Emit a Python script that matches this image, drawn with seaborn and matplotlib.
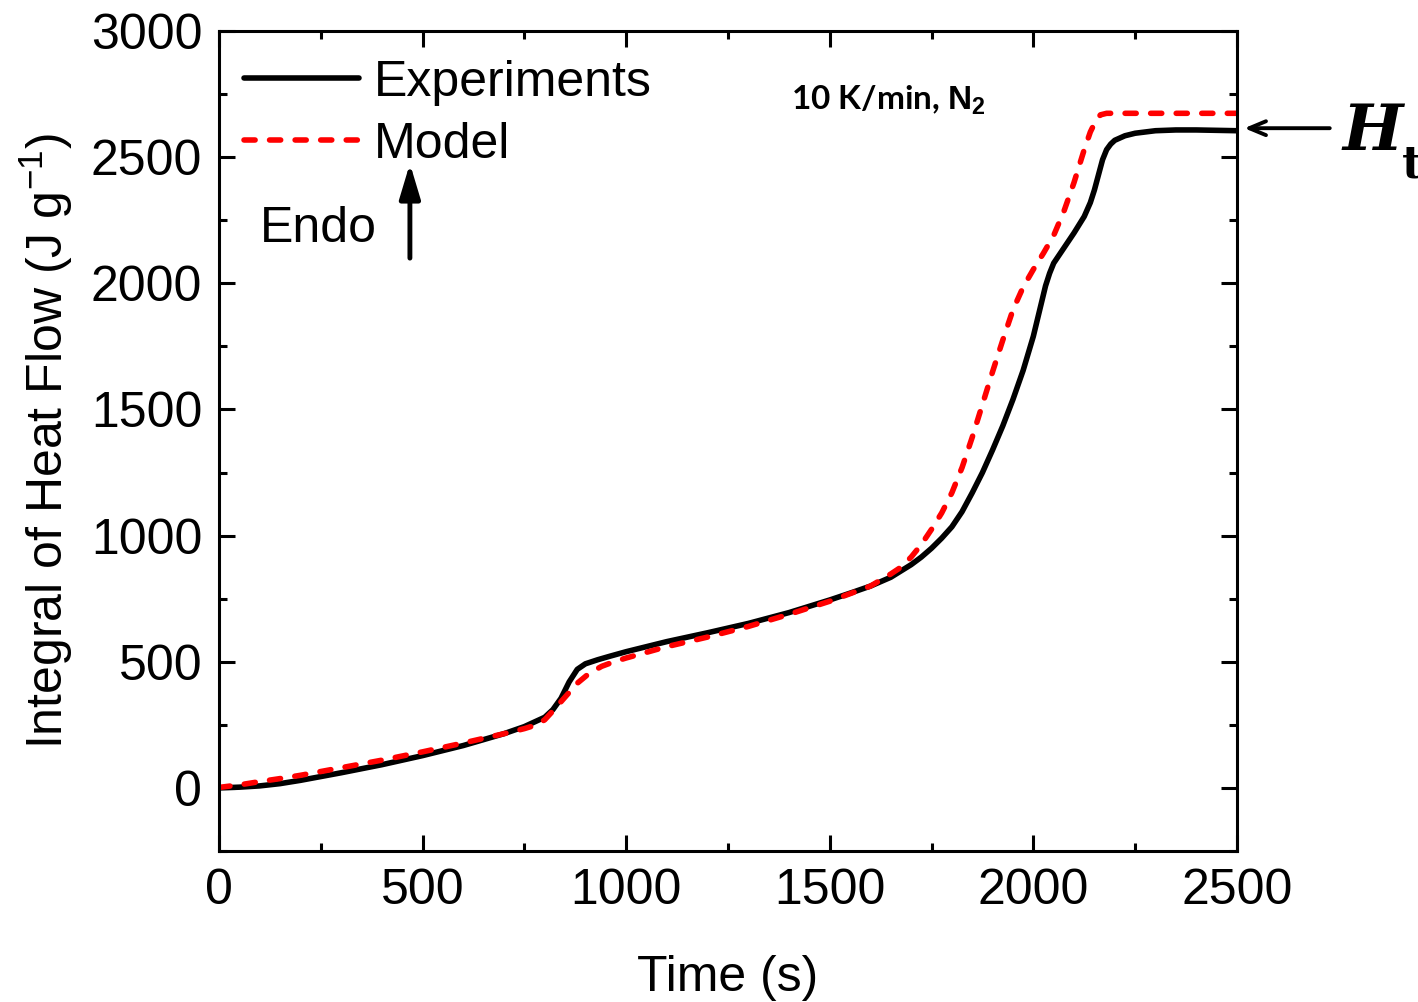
import matplotlib
matplotlib.use("Agg")
import matplotlib.pyplot as plt
import seaborn as sns
import numpy as np

# ---- data ----
exp_time = [0, 50, 100, 150, 200, 300, 400, 500, 600, 700, 750, 800, 820, 840, 860,
            880, 900, 930, 960, 1000, 1100, 1200, 1300, 1400, 1500, 1550, 1600, 1650,
            1700, 1725, 1750, 1775, 1800, 1825, 1850, 1875, 1900, 1925, 1950, 1975,
            2000, 2015, 2030, 2040, 2050, 2075, 2100, 2125, 2140, 2150, 2160, 2170,
            2180, 2190, 2200, 2225, 2250, 2300, 2350, 2400, 2500]
exp_heat = [0, 3, 8, 17, 30, 60, 92, 128, 168, 215, 243, 280, 310, 355, 420,
            470, 492, 508, 522, 540, 580, 615, 652, 695, 745, 772, 800, 835,
            885, 915, 950, 990, 1035, 1095, 1170, 1250, 1340, 1435, 1540, 1655,
            1790, 1890, 1990, 2040, 2080, 2140, 2200, 2265, 2320, 2370, 2430, 2490,
            2530, 2552, 2567, 2585, 2595, 2605, 2608, 2608, 2605]

model_time = [0, 50, 100, 150, 200, 300, 400, 500, 600, 700, 750, 780, 800, 820, 850,
              880, 910, 940, 970, 1000, 1100, 1200, 1300, 1400, 1500, 1600, 1650, 1675,
              1700, 1725, 1750, 1775, 1800, 1825, 1850, 1875, 1900, 1925, 1950, 1975,
              2000, 2025, 2050, 2075, 2100, 2125, 2140, 2155, 2165, 2180, 2500]
model_heat = [2, 12, 25, 37, 50, 80, 110, 143, 178, 215, 235, 250, 270, 305, 360,
              415, 455, 482, 500, 515, 560, 598, 640, 688, 740, 800, 848, 875,
              915, 965, 1025, 1090, 1170, 1270, 1390, 1520, 1650, 1775, 1895, 1985,
              2055, 2120, 2190, 2285, 2400, 2530, 2600, 2650, 2668, 2674, 2674]

xticks = [0, 500, 1000, 1500, 2000, 2500]
yticks = [0, 500, 1000, 1500, 2000, 2500, 3000]

# ---- style ----
sns.set_style("ticks")
plt.rcParams['font.family'] = ['Liberation Sans', 'DejaVu Sans']
plt.rcParams['text.color'] = 'black'
plt.rcParams['axes.labelcolor'] = 'black'
plt.rcParams['xtick.color'] = 'black'
plt.rcParams['ytick.color'] = 'black'
plt.rcParams['mathtext.fontset'] = 'custom'
plt.rcParams['mathtext.rm'] = 'Liberation Sans'
plt.rcParams['mathtext.it'] = 'Liberation Sans:italic'
plt.rcParams['mathtext.bf'] = 'Liberation Sans:bold'

fig = plt.figure(figsize=(14.18, 10.02), dpi=100)
ax = fig.add_axes([0.1544, 0.1507, 0.7179, 0.8183])

sns.lineplot(x=exp_time, y=exp_heat, ax=ax, color='black', lw=4,
             solid_capstyle='round', solid_joinstyle='round',
             label='Experiments', legend=False)
sns.lineplot(x=model_time, y=model_heat, ax=ax, color='#ff0000', lw=4,
             linestyle=(0, (2, 2.6)), dash_capstyle='round', dash_joinstyle='round',
             label='Model', legend=False)

ax.set_xlim(0, 2500)
ax.set_ylim(-250, 3000)
ax.set_xticks(xticks)
ax.set_yticks(yticks)
ax.set_xticks(np.arange(250, 2500, 500), minor=True)
ax.set_yticks(np.arange(-250, 3000, 500), minor=True)
ax.tick_params(which='both', direction='in', top=True, right=True, width=2.2,
               labelsize=36, color='black', labelcolor='black')
ax.tick_params(which='major', length=11.5, pad=12)
ax.tick_params(which='minor', length=6)
for s in ax.spines.values():
    s.set_linewidth(2.2)
    s.set_color('black')

ax.set_xlabel('Time (s)', fontsize=36, labelpad=30, color='black')
ax.set_ylabel('Integral of Heat Flow (J g$^{-1}$)', fontsize=36, labelpad=11,
              color='black')

leg = ax.legend(loc='upper left', bbox_to_anchor=(-0.01, 1.008), frameon=False,
                fontsize=36, handlelength=2.3, handletextpad=0.3,
                labelspacing=0.32, borderaxespad=0.3)
for t in leg.get_texts():
    t.set_color('black')

ax.text(101, 2215, 'Endo', fontsize=36, va='center', ha='left', color='black')
ax.annotate('', xy=(469, 2475), xytext=(469, 2100),
            arrowprops=dict(arrowstyle='-|>,head_length=1.4,head_width=0.42',
                            lw=3.5, color='black', mutation_scale=15,
                            shrinkA=0, shrinkB=0))

ax.text(1643, 2726, r'10 K/min, $\mathbf{N_2}$', fontsize=24, fontweight='bold',
        ha='center', va='center', family=['Lato', 'DejaVu Sans'], color='black')

ax.annotate('', xy=(2518, 2615), xytext=(2728, 2615), annotation_clip=False,
            arrowprops=dict(arrowstyle='->,head_length=0.6,head_width=0.25',
                            lw=2.8, color='black', mutation_scale=20,
                            shrinkA=0, shrinkB=0))
ax.text(2760, 2528, 'H', fontsize=46, fontweight='bold', fontstyle='italic',
        family='DejaVu Serif', ha='left', va='baseline', clip_on=False,
        color='black')
ax.text(2905, 2421, 't', fontsize=32, fontweight='bold',
        family='DejaVu Serif', ha='left', va='baseline', clip_on=False,
        color='black')

fig.savefig('out.png', dpi=100, facecolor='white')
